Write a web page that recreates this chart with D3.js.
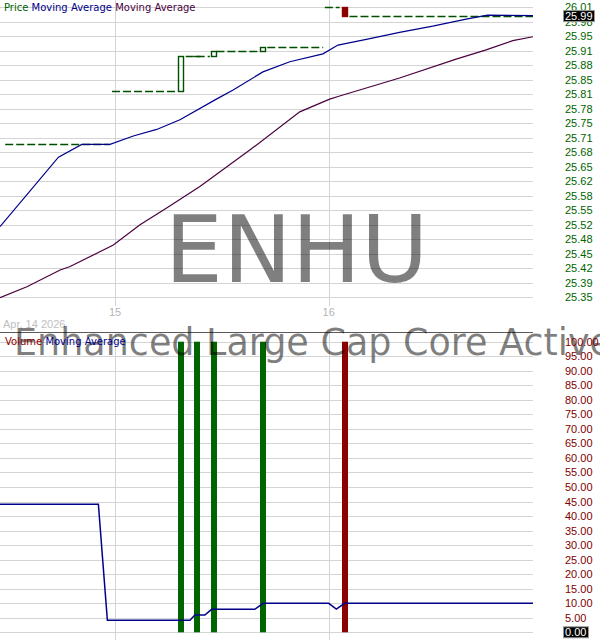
<!DOCTYPE html>
<html><head><meta charset="utf-8">
<script src="https://cdn.jsdelivr.net/npm/d3@7"></script>
<style>body{margin:0;background:#fff}svg{display:block}</style>
</head><body><svg id="c" width="600" height="640"></svg>
<script>
// ---- data ----
const priceTickLabels = ["25.35","25.39","25.42","25.45","25.48","25.52","25.55","25.58","25.62","25.65","25.68","25.71","25.75","25.78","25.81","25.85","25.88","25.91","25.95","25.98","26.01"];
const volumeTickLabels = ["0.00","5.00","10.00","15.00","20.00","25.00","30.00","35.00","40.00","45.00","50.00","55.00","60.00","65.00","70.00","75.00","80.00","85.00","90.00","95.00","100.00"];
const dayTickBars = [0, 39];
const dayTickLabels = ["15", "16"];
const dateLabel = "Apr, 14 2026";
const symbol = "ENHU";
const fundName = "Enhanced Large Cap Core Active ETF";
const lastPrice = "25.99";
const lastVolume = "0.00";

const candleBar = [12, 15, 18, 27, 42];
const candleOpen = [25.82, 25.90, 25.90, 25.91, 26.01];
const candleClose = [25.90, 25.90, 25.91, 25.92, 25.99];
const volumeValues = [100, 100, 100, 100, 100];

const flatStart = [-20.05, -0.55, 12.9, 18.5, 27.8, 38.3, 42.8];
const flatEnd = [-1, 11.3, 17.3, 26.3, 38.0, 41.0, 76.3];
const flatPrice = [25.70, 25.82, 25.90, 25.91, 25.92, 26.01, 25.99];

const ma1Bar = [-21, -10.33, -6.07, -0.91, 3.34, 7.6, 11.85, 18.5, 21.56, 27.0, 31.9, 37.96, 40.7, 45.87, 51.94, 58.0, 64.1, 68.0, 76.3];
const ma1Val = [25.511, 25.669, 25.698, 25.698, 25.717, 25.732, 25.754, 25.801, 25.822, 25.863, 25.886, 25.904, 25.924, 25.937, 25.953, 25.967, 25.983, 25.992, 25.991];

const ma2Bar = [-21, -16.09, -10.02, -8.2, -0.31, 4.56, 9.42, 15.49, 24.6, 33.72, 39.18, 40.7, 51.94, 62.27, 67.74, 72.6, 76.3];
const ma2Val = [25.349, 25.374, 25.412, 25.420, 25.469, 25.515, 25.553, 25.602, 25.685, 25.772, 25.801, 25.807, 25.849, 25.892, 25.913, 25.934, 25.943];

const volMaBar = [-21, -3.04, -1.4, 13.67, 14.58, 16.4, 17.62, 25.51, 27.03, 39, 40.4, 41.9, 76.3];
const volMaVal = [44.05, 44.05, 4.13, 4.13, 5.95, 5.95, 7.9, 7.9, 9.98, 9.98, 8.0, 9.98, 9.98];

// ---- layout ----
const svg = d3.select("#c");
const plotRight = 533;
const x = d3.scaleLinear().domain([-21, 76.3]).range([0, plotRight]);
const yP = d3.scaleLinear().domain([25.35, 26.01]).range([297.3, 7.3]);
const yV = d3.scaleLinear().domain([0, 100]).range([632.3, 341.7]);

const cGrid = "#d4d4d4", cGreen = "#006400", cDashG = "#004f00", cRed = "#8b0000",
      cBlue = "#00008b", cPurple = "#4a0040", cVolLbl = "#800000";

const defs = svg.append("defs");
defs.append("clipPath").attr("id", "clipP").append("rect").attr("x", 0).attr("y", 0).attr("width", plotRight).attr("height", 310);
defs.append("clipPath").attr("id", "clipV").append("rect").attr("x", 0).attr("y", 333).attr("width", plotRight).attr("height", 307);

const n = priceTickLabels.length - 1;
const priceTickVals = d3.range(n + 1).map(i => 25.35 + i * (26.01 - 25.35) / n);
const volTickVals = d3.range(volumeTickLabels.length).map(i => i * 5);

// gridlines price
const gP = svg.append("g");
gP.selectAll("line.h").data(priceTickVals).join("line")
  .attr("x1", 0).attr("x2", plotRight)
  .attr("y1", d => Math.round(yP(d)) + 0.5).attr("y2", d => Math.round(yP(d)) + 0.5)
  .attr("stroke", cGrid);
gP.selectAll("line.v").data(dayTickBars).join("line")
  .attr("x1", d => Math.round(x(d)) + 0.5).attr("x2", d => Math.round(x(d)) + 0.5)
  .attr("y1", 0).attr("y2", 306).attr("stroke", cGrid);

// gridlines volume
const gV = svg.append("g");
gV.selectAll("line.h").data(volTickVals).join("line")
  .attr("x1", 0).attr("x2", plotRight)
  .attr("y1", d => Math.round(yV(d)) + 0.5).attr("y2", d => Math.round(yV(d)) + 0.5)
  .attr("stroke", cGrid);
gV.selectAll("line.v").data(dayTickBars).join("line")
  .attr("x1", d => Math.round(x(d)) + 0.5).attr("x2", d => Math.round(x(d)) + 0.5)
  .attr("y1", 333).attr("y2", 640).attr("stroke", cGrid);

// separator
svg.append("line").attr("x1", 0).attr("x2", plotRight).attr("y1", 332.5).attr("y2", 332.5)
  .attr("stroke", "#5a5a5a").attr("stroke-width", 1);

// day labels
svg.append("g").selectAll("text").data(dayTickBars).join("text")
  .attr("x", d => x(d)).attr("y", 316).attr("text-anchor", "middle")
  .attr("font-family", "Liberation Sans, Arial, sans-serif").attr("font-size", 11)
  .attr("fill", "#b4b4b4").text((d, i) => dayTickLabels[i]);
svg.append("text").attr("x", 3).attr("y", 328)
  .attr("font-family", "Liberation Sans, Arial, sans-serif").attr("font-size", 11)
  .attr("fill", "#c0c0c0").text(dateLabel);

// price plot
const pp = svg.append("g").attr("clip-path", "url(#clipP)");
const lineP = d3.line().x(d => x(d[0])).y(d => yP(d[1]));
pp.append("path").datum(ma2Bar.map((b, i) => [b, ma2Val[i]])).attr("d", lineP)
  .attr("fill", "none").attr("stroke", cPurple).attr("stroke-width", 1.2);
pp.selectAll("line.flat").data(flatPrice).join("line")
  .attr("x1", (d, i) => x(flatStart[i])).attr("x2", (d, i) => x(flatEnd[i]))
  .attr("y1", d => Math.round(yP(d)) + 0.5).attr("y2", d => Math.round(yP(d)) + 0.5)
  .attr("stroke", cDashG).attr("stroke-width", 1.4).attr("stroke-dasharray", "8,3");
pp.append("path").datum(ma1Bar.map((b, i) => [b, ma1Val[i]])).attr("d", lineP)
  .attr("fill", "none").attr("stroke", cBlue).attr("stroke-width", 1.2);
const candles = candleBar.map((b, i) => ({b, o: candleOpen[i], c: candleClose[i]}));
pp.selectAll("rect.cdl").data(candles).join("rect")
  .attr("x", d => Math.round(x(d.b)) - 2.5)
  .attr("y", d => Math.round(yP(Math.max(d.o, d.c))) + 0.5)
  .attr("width", 5)
  .attr("height", d => Math.max(0.01, Math.round(yP(Math.min(d.o, d.c))) - Math.round(yP(Math.max(d.o, d.c)))))
  .attr("fill", d => d.c < d.o ? cRed : "none")
  .attr("stroke", d => d.c < d.o ? cRed : cDashG).attr("stroke-width", 1.4);

// volume plot
const vp = svg.append("g").attr("clip-path", "url(#clipV)");
vp.selectAll("rect.vol").data(volumeValues).join("rect")
  .attr("x", (d, i) => Math.round(x(candleBar[i])) - 3)
  .attr("y", d => yV(d))
  .attr("width", 6)
  .attr("height", d => yV(0) - yV(d))
  .attr("fill", (d, i) => candleClose[i] < candleOpen[i] ? cRed : cGreen);
const lineV = d3.line().x(d => x(d[0])).y(d => yV(d[1]));
vp.append("path").datum(volMaBar.map((b, i) => [b, volMaVal[i]])).attr("d", lineV)
  .attr("fill", "none").attr("stroke", cBlue).attr("stroke-width", 1.5);

// watermarks
svg.append("text").attr("x", 296.5).attr("y", 282).attr("text-anchor", "middle")
  .attr("font-family", "DejaVu Sans, sans-serif").attr("font-size", 92)
  .attr("fill", "#000").attr("fill-opacity", 0.5).text(symbol);
svg.append("text").attr("x", 14).attr("y", 355)
  .attr("font-family", "DejaVu Sans, sans-serif").attr("font-size", 36.5)
  .attr("fill", "#000").attr("fill-opacity", 0.5).text(fundName);

// legends
const lg1 = svg.append("text").attr("x", 4).attr("y", 11)
  .attr("font-family", "DejaVu Sans, Verdana, sans-serif").attr("font-size", 10);
lg1.append("tspan").attr("fill", cGreen).text("Price ");
lg1.append("tspan").attr("fill", cBlue).text("Moving Average ");
lg1.append("tspan").attr("fill", cPurple).text("Moving Average");
const lg2 = svg.append("text").attr("x", 5).attr("y", 345)
  .attr("font-family", "DejaVu Sans, Verdana, sans-serif").attr("font-size", 10);
lg2.append("tspan").attr("fill", cRed).text("Volume ");
lg2.append("tspan").attr("fill", cBlue).text("Moving Average");

// axis labels
svg.append("g").selectAll("text").data(priceTickVals).join("text")
  .attr("x", 565).attr("y", d => yP(d) + 4)
  .attr("font-family", "Liberation Sans, Arial, sans-serif").attr("font-size", 11)
  .attr("fill", cGreen).text((d, i) => priceTickLabels[i]);
svg.append("g").selectAll("text").data(volTickVals).join("text")
  .attr("x", 565).attr("y", d => yV(d) + 4)
  .attr("font-family", "Liberation Sans, Arial, sans-serif").attr("font-size", 11)
  .attr("fill", cVolLbl).text((d, i) => volumeTickLabels[i]);

// current value boxes
function valueBox(yc, label) {
  const g = svg.append("g");
  const t = g.append("text").attr("x", 565).attr("y", yc + 4)
    .attr("font-family", "Liberation Sans, Arial, sans-serif").attr("font-size", 11)
    .attr("fill", "#fff").text(label);
  const w = t.node().getComputedTextLength();
  g.insert("rect", "text").attr("x", 563.5).attr("y", yc - 5.5).attr("width", Math.ceil(w) + 3).attr("height", 11)
    .attr("fill", "#000").attr("stroke", "#999").attr("stroke-width", 1);
}
valueBox(yP(+lastPrice), lastPrice);
valueBox(yV(+lastVolume), lastVolume);
</script></body></html>
